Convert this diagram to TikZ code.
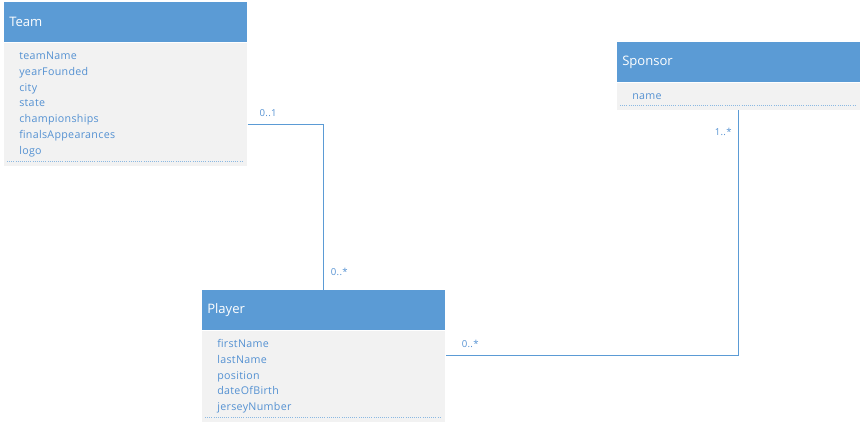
\documentclass[tikz,border=0pt]{standalone}
\usepackage{fontspec}
\setmainfont{Open Sans}
\newfontfamily\attrfont[LetterSpace=3]{Open Sans}
\usepackage{xcolor}
\usetikzlibrary{positioning}
\definecolor{umlblue}{RGB}{91,155,213}
\definecolor{umltext}{RGB}{84,145,210}
\definecolor{umlgray}{RGB}{242,242,242}
\tikzset{
    classhead/.style={rectangle, fill=umlblue, text=white, minimum height=30pt, text width=174.75pt, inner xsep=3.75pt, inner ysep=0pt, align=left, font=\fontsize{9.8}{11}\selectfont},
    classbody/.style={rectangle, fill=umlgray, text=umltext, text width=159.75pt, inner xsep=11.25pt, inner ysep=0pt, align=left, font=\attrfont\fontsize{8}{11.8}\selectfont},
    mult/.style={text=umltext, inner sep=1pt, font=\attrfont\fontsize{7.2}{8}\selectfont},
    assoc/.style={draw=umlblue, line width=0.8pt},
    sep/.style={draw=umlblue!70, densely dotted, line width=0.6pt}
}
\begin{document}
\begin{tikzpicture}[x=0.75pt, y=-0.75pt]
    \useasboundingbox (0,0) rectangle (863,424);

    % Team
    \node[classhead, anchor=north west] (teamHead) at (4,2) {Team};
    \node[classbody, below=0pt of teamHead, minimum height=92.25pt] (teamBody) {teamName\\yearFounded\\city\\state\\championships\\finalsAppearances\\logo};

    % Sponsor
    \node[classhead, anchor=north west] (sponsorHead) at (617,42) {Sponsor};
    \node[classbody, below=0pt of sponsorHead, minimum height=20.25pt] (sponsorBody) {name};

    % Player
    \node[classhead, anchor=north west] (playerHead) at (202,290) {Player};
    \node[classbody, below=0pt of playerHead, minimum height=68.25pt] (playerBody) {firstName\\lastName\\position\\dateOfBirth\\jerseyNumber};

    % Dotted separators
    \draw[sep] ([xshift=2.25pt, yshift=3.75pt]teamBody.south west) -- ([xshift=-3pt, yshift=3.75pt]teamBody.south east);
    \draw[sep] ([xshift=2.25pt, yshift=3.75pt]sponsorBody.south west) -- ([xshift=-3pt, yshift=3.75pt]sponsorBody.south east);
    \draw[sep] ([xshift=2.25pt, yshift=3.75pt]playerBody.south west) -- ([xshift=-3pt, yshift=3.75pt]playerBody.south east);

    % Associations
    \draw[assoc] ([yshift=-15.375pt]teamBody.east) -| (playerHead.north)
        node[mult, pos=0.135, above=4.5pt] {0..1}
        node[mult, pos=0.946, right=4pt] {0..*};
    \draw[assoc] (sponsorBody.south) |- ([yshift=15.375pt]playerBody.east)
        node[mult, pos=0.045, left=4pt] {1..*}
        node[mult, pos=0.958, above=4.5pt] {0..*};
\end{tikzpicture}
\end{document}
